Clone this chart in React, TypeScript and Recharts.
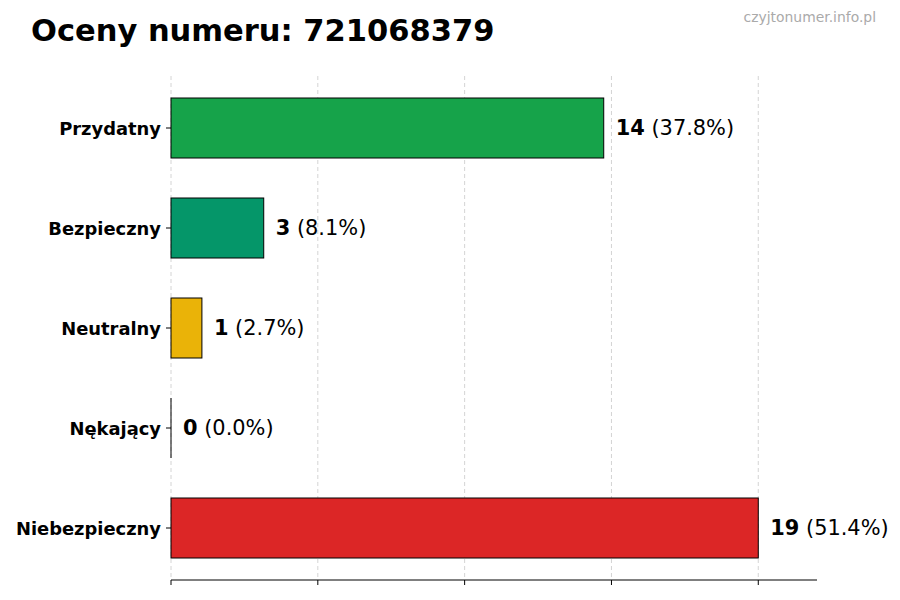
import React from 'react';
import { BarChart, Bar, XAxis, YAxis, CartesianGrid, Cell, LabelList } from 'recharts';

const CATEGORIES = ['Przydatny', 'Bezpieczny', 'Neutralny', 'Nękający', 'Niebezpieczny'];
const COUNTS = [14, 3, 1, 0, 19];
const BAR_COLORS = ['#16a34a', '#059669', '#eab308', '#6b7280', '#dc2626'];
const X_TICKS = [0, 4.75, 9.5, 14.25, 19];
const X_MAX = 20.9;

const FONT = '"DejaVu Sans", sans-serif';

const total = COUNTS.reduce((a, b) => a + b, 0);
const data = CATEGORIES.map((name, i) => ({ name, count: COUNTS[i], color: BAR_COLORS[i] }));

// grid only at the real ticks (recharts otherwise adds one at the domain end)
function gridXs({ xAxis, offset }: any) {
  const s = xAxis && xAxis.scale;
  return X_TICKS.map((t) => {
    if (typeof s === 'function') return s(t);
    if (s && typeof s.map === 'function') return s.map(t);
    return offset.left + (t / X_MAX) * offset.width;
  });
}

function CategoryTick(props: any) {
  const { x, y, payload } = props;
  return (
    <text x={x} y={y} textAnchor="end" dominantBaseline="central" fontFamily={FONT} fontWeight="bold" fontSize={17.9} fill="#000">
      {payload.value}
    </text>
  );
}

function BarShape(props: any) {
  const { x, y, width, height, fill } = props;
  if (!width) {
    return <line x1={x} y1={y} x2={x} y2={y + height} stroke="#000" strokeWidth={1} />;
  }
  return <rect x={x} y={y} width={width} height={height} fill={fill} stroke="#000" strokeWidth={1} />;
}

function ValueLabel(props: any) {
  const { x, y, width, height, value } = props;
  const pct = ((value / total) * 100).toFixed(1);
  return (
    <text x={x + width + 12} y={y + height / 2} dominantBaseline="central" fontFamily={FONT} fontSize={20.9} fill="#000">
      <tspan fontWeight="bold">{value}</tspan>
      <tspan>{` (${pct}%)`}</tspan>
    </text>
  );
}

export default function App() {
  return (
    <div style={{ position: 'absolute', left: 0, top: 0, width: 900, height: 600, background: '#fff' }}>
      <div style={{ position: 'absolute', left: 31, top: 13, fontFamily: FONT, fontWeight: 'bold', fontSize: 30.5, color: '#000', whiteSpace: 'nowrap' }}>
        Oceny numeru: 721068379
      </div>
      <div style={{ position: 'absolute', right: 24, top: 9, fontFamily: FONT, fontSize: 13.9, color: '#aaa', whiteSpace: 'nowrap' }}>
        czyjtonumer.info.pl
      </div>
      <BarChart
        width={900}
        height={600}
        data={data}
        layout="vertical"
        margin={{ top: 76, right: 83, left: 0, bottom: 0 }}
        barSize={60}
      >
        <CartesianGrid
          horizontal={false}
          stroke="#d4d4d4"
          strokeDasharray="4 3"
          verticalCoordinatesGenerator={gridXs}
        />
        <XAxis
          type="number"
          domain={[0, X_MAX]}
          ticks={X_TICKS}
          height={20}
          tickFormatter={() => ''}
          tickSize={5}
          axisLine={{ stroke: '#000' }}
          tickLine={{ stroke: '#000' }}
        />
        <YAxis
          type="category"
          dataKey="name"
          width={171}
          padding={{ top: 2, bottom: 2 }}
          axisLine={false}
          tickLine={{ stroke: '#000' }}
          tickSize={5}
          tickMargin={5}
          tick={<CategoryTick />}
        />
        <Bar dataKey="count" isAnimationActive={false} shape={<BarShape />}>
          {data.map((d, i) => (
            <Cell key={i} fill={d.color} />
          ))}
          <LabelList dataKey="count" content={<ValueLabel />} />
        </Bar>
      </BarChart>
    </div>
  );
}
